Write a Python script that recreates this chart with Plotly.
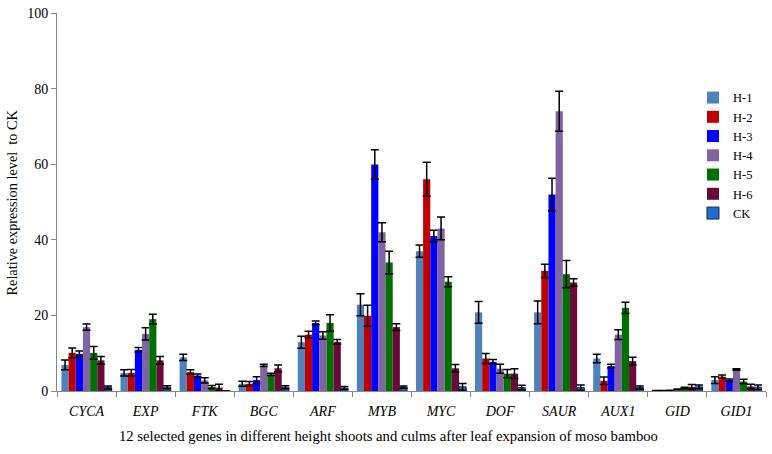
import plotly.graph_objects as go

genes = ["CYCA", "EXP", "FTK", "BGC", "ARF", "MYB", "MYC", "DOF", "SAUR", "AUX1", "GID", "GID1"]
series_names = ["H-1", "H-2", "H-3", "H-4", "H-5", "H-6", "CK"]

h1 = [6.9, 4.8, 8.9, 1.9, 12.9, 22.8, 37.0, 20.8, 20.8, 8.6, 0.1, 2.9]
h2 = [10.1, 4.8, 5.0, 1.9, 14.9, 19.9, 56.0, 8.6, 31.8, 2.7, 0.1, 3.8]
h3 = [9.8, 10.9, 4.1, 2.9, 18.0, 59.9, 41.0, 7.7, 52.0, 6.6, 0.2, 2.9]
h4 = [16.9, 15.1, 2.8, 6.8, 14.7, 42.0, 43.0, 5.9, 74.0, 14.9, 0.4, 5.7]
h5 = [10.1, 19.0, 1.05, 4.4, 18.0, 34.0, 28.9, 4.6, 30.9, 22.0, 0.8, 2.5]
h6 = [8.1, 8.1, 0.9, 6.0, 13.0, 16.9, 6.0, 4.6, 28.7, 7.9, 1.1, 1.2]
ck = [0.9, 1.0, 0.0, 1.0, 0.8, 1.0, 1.1, 0.9, 0.9, 0.9, 1.1, 1.0]

h1_err = [1.3, 0.8, 0.8, 0.65, 1.6, 2.9, 1.6, 2.9, 3.0, 1.1, 0.0, 0.9]
h2_err = [1.3, 0.9, 0.6, 0.6, 0.9, 2.8, 4.5, 1.3, 1.75, 1.0, 0.0, 0.45]
h3_err = [0.75, 0.6, 0.4, 0.9, 0.5, 3.9, 1.5, 0.65, 4.3, 0.5, 0.0, 0.3]
h4_err = [0.8, 1.6, 0.7, 0.3, 1.0, 2.5, 3.0, 1.2, 5.3, 1.3, 0.1, 0.2]
h5_err = [1.7, 1.3, 0.4, 0.3, 2.2, 3.0, 1.3, 1.1, 3.6, 1.5, 0.2, 0.6]
h6_err = [1.0, 1.0, 0.9, 0.9, 0.65, 0.9, 1.0, 1.3, 1.0, 1.0, 0.6, 0.6]
ck_err = [0.4, 0.4, 0.0, 0.4, 0.4, 0.3, 0.9, 0.6, 0.7, 0.4, 0.5, 0.6]

colors = ["#4F81BD", "#C00000", "#0000FF", "#8064A2", "#007000", "#6B0A3A", "#1F6FCC"]

values = [h1, h2, h3, h4, h5, h6, ck]
errors = [h1_err, h2_err, h3_err, h4_err, h5_err, h6_err, ck_err]

FONT = "Liberation Serif"

fig = go.Figure()
for name, vals, errs, col in zip(series_names, values, errors, colors):
    line = dict(width=1, color="#1a2a55") if name == "CK" else dict(width=0)
    fig.add_trace(go.Bar(
        x=genes, y=vals, name=name,
        marker=dict(color=col, line=line),
        error_y=dict(type="data", array=errs, visible=True, color="black",
                     thickness=1.5, width=4),
    ))

fig.update_layout(
    width=772, height=454,
    barmode="group", bargap=0.15, bargroupgap=0,
    plot_bgcolor="white", paper_bgcolor="white",
    margin=dict(l=57, r=6, t=8, b=63),
    font=dict(family=FONT, size=13, color="black"),
    legend=dict(x=0.897, y=0.815, xanchor="left", yanchor="top",
                font=dict(family=FONT, size=12.5), bgcolor="rgba(0,0,0,0)",
                itemwidth=30, tracegroupgap=0),
    showlegend=True,
)
fig.update_xaxes(
    range=[-0.5, 11.5], showline=True, linecolor="#888888", linewidth=1,
    ticks="outside", ticklen=5, tickcolor="#888888", tickson="boundaries",
    ticklabelstandoff=7,
    tickfont=dict(family=FONT, size=14, style="italic"), showgrid=False,
)
fig.update_yaxes(
    range=[0, 100], dtick=20, showline=True, linecolor="#888888", linewidth=1,
    ticks="outside", ticklen=5, tickcolor="#888888", showgrid=False,
    tickfont=dict(family=FONT, size=14), zeroline=False,
)
fig.add_annotation(text="12 selected genes in different height shoots and culms after leaf expansion of moso bamboo",
                   xref="paper", yref="paper", x=(388 - 57) / 709, y=-(437 - 391) / 383,
                   showarrow=False, font=dict(family=FONT, size=14.7), xanchor="center", yanchor="middle")
fig.add_annotation(text="Relative expression level  to CK", textangle=-90,
                   xref="paper", yref="paper", x=(12 - 57) / 709, y=(391 - 200) / 383,
                   showarrow=False, font=dict(family=FONT, size=14.3), xanchor="center", yanchor="middle")

fig.write_html("out.html", config={"displayModeBar": False},
               post_script="document.body.style.margin='0';")
